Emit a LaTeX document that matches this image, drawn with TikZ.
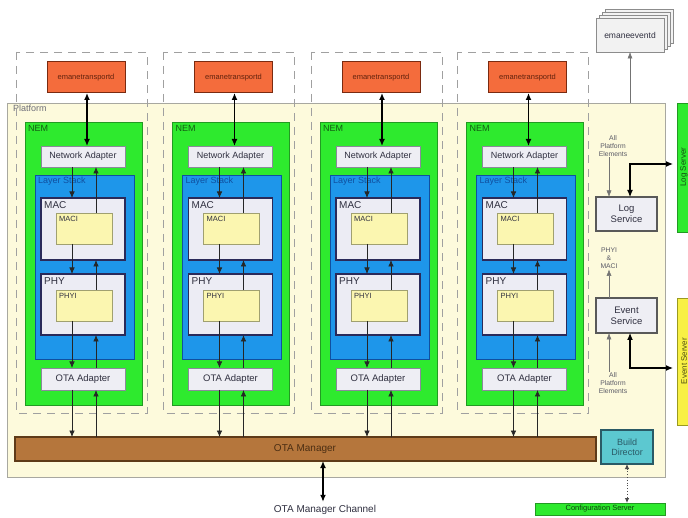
\documentclass[tikz,border=0pt]{standalone}
\usepackage{fontspec}
\setmainfont{Liberation Sans}
\usetikzlibrary{arrows.meta}
\definecolor{cream}{HTML}{FDFADC}
\definecolor{platline}{HTML}{A8A8A0}
\definecolor{orangef}{HTML}{F46C3C}
\definecolor{oranged}{HTML}{7A2A10}
\definecolor{nemgreen}{HTML}{2EEA2E}
\definecolor{nemdark}{HTML}{229A22}
\definecolor{stackblue}{HTML}{1E96EA}
\definecolor{stackdark}{HTML}{1050A0}
\definecolor{layerf}{HTML}{ECECF4}
\definecolor{layerd}{HTML}{2A2A5A}
\definecolor{plugf}{HTML}{FBF6B0}
\definecolor{plugd}{HTML}{A0A070}
\definecolor{adaptf}{HTML}{EEEEF4}
\definecolor{adaptd}{HTML}{8A8A9A}
\definecolor{brownf}{HTML}{B5763C}
\definecolor{brownd}{HTML}{5E3A18}
\definecolor{tealf}{HTML}{5CC8D0}
\definecolor{teald}{HTML}{2A5A66}
\definecolor{evyellow}{HTML}{F8F044}
\definecolor{evdark}{HTML}{9A9A20}
\definecolor{txt}{HTML}{303040}
\definecolor{dashc}{HTML}{A0A0A0}
\tikzset{
  nw/.style={anchor=north west, inner sep=0pt, outer sep=0pt},
  platbox/.style={nw, draw=platline, line width=0.8pt, fill=cream},
  colframe/.style={draw=dashc, dash pattern=on 8pt off 6pt, line width=0.6pt},
  orangebox/.style={nw, draw=oranged, line width=1pt, fill=orangef, text=oranged!80!black, font=\fontsize{7.5}{8}\selectfont},
  nembox/.style={nw, draw=nemdark, line width=0.8pt, fill=nemgreen},
  stackbox/.style={nw, draw=stackdark, line width=0.8pt, fill=stackblue},
  layerbox/.style={nw, draw=layerd, line width=1.2pt, fill=layerf},
  plugbox/.style={nw, draw=plugd, line width=0.6pt, fill=plugf},
  adapterbox/.style={nw, draw=adaptd, line width=0.8pt, fill=adaptf, text=txt, font=\fontsize{9}{10}\selectfont},
  svcbox/.style={nw, draw=gray!70!black, line width=1.4pt, fill=adaptf, text=txt, align=center, font=\fontsize{9.5}{11}\selectfont},
  lbl/.style={anchor=north west, inner sep=1pt, text=txt, font=\fontsize{9}{10}\selectfont},
  smalllbl/.style={anchor=north west, inner sep=1pt, text=txt, font=\fontsize{7.5}{8}\selectfont},
  tinytxt/.style={align=center, inner sep=1pt, text=txt!80, font=\fontsize{6.8}{7.8}\selectfont},
  thinarr/.style={draw=black!85, line width=0.7pt, -{Latex[length=6.5pt,width=5.5pt]}},
  greyarr/.style={draw=black!55, line width=0.5pt, -{Latex[length=6.5pt,width=5pt]}},
  bigarr/.style={draw=black, line width=1.3pt, {Latex[length=7pt,width=6pt]}-{Latex[length=7pt,width=6pt]}},
  eebox/.style={draw=black!45, line width=0.6pt, fill=black!5},
}
\begin{document}
\begin{tikzpicture}[x=1pt,y=-1pt]
\clip (0,0) rectangle (688,518);
\fill[white] (0,0) rectangle (688,518);
% platform
\node[platbox, minimum width=658, minimum height=374] (plat) at (7,103) {};
\node[lbl, text=txt!70] (platlbl) at (12,104) {Platform};
% dashed columns
\foreach \dx in {0,147.5,295,441.5}{
  \draw[colframe] ({\dx+16},52) rectangle ({\dx+147},413);
}
% OTA manager
\node[nw, draw=brownd, line width=1.2pt, fill=brownf, minimum width=581, minimum height=24] (otam) at (15,437) {};
\node[text=brownd!80!black, font=\fontsize{10}{11}\selectfont] (otamlbl) at (305,449) {OTA Manager};
% columns
\foreach \i/\dx in {1/0,2/147.5,3/295,4/441.5}{
  \node[orangebox, minimum width=78, minimum height=31] (et\i) at ({\dx+47},62) {emanetransportd};
  \node[nembox, minimum width=117, minimum height=283] (nem\i) at ({\dx+25},122) {};
  \node[lbl, text=nemdark!60!black] (neml\i) at ({\dx+27},124) {NEM};
  \node[adapterbox, minimum width=84, minimum height=21] (na\i) at ({\dx+41},146) {Network Adapter};
  \node[stackbox, minimum width=99, minimum height=184] (st\i) at ({\dx+35},175) {};
  \node[lbl, text=stackdark] (stl\i) at ({\dx+37},176) {Layer Stack};
  \node[layerbox, minimum width=84, minimum height=62] (mac\i) at ({\dx+41},198) {};
  \node[lbl, font=\fontsize{10}{11}\selectfont] (macl\i) at ({\dx+43},200) {MAC};
  \node[plugbox, minimum width=56, minimum height=31] (maci\i) at ({\dx+56},213) {};
  \node[smalllbl] (macil\i) at ({\dx+58},215) {MACI};
  \node[layerbox, minimum width=84, minimum height=61] (phy\i) at ({\dx+41},274) {};
  \node[lbl, font=\fontsize{10}{11}\selectfont] (phyl\i) at ({\dx+43},276) {PHY};
  \node[plugbox, minimum width=56, minimum height=31] (phyi\i) at ({\dx+56},290) {};
  \node[smalllbl] (phyil\i) at ({\dx+58},292) {PHYI};
  \node[adapterbox, minimum width=84, minimum height=22, font=\fontsize{9.5}{10}\selectfont] (ota\i) at ({\dx+41},368) {OTA Adapter};
  \coordinate (dn\i) at ({\dx+72},0);
  \coordinate (up\i) at ({\dx+96},0);
  \coordinate (tr\i) at ({\dx+87},0);
  \draw[bigarr] (et\i.south -| tr\i) -- (na\i.north -| tr\i);
  \draw[thinarr] (na\i.south -| dn\i) -- (mac\i.north -| dn\i);
  \draw[thinarr] (maci\i.north -| up\i) -- (na\i.south -| up\i);
  \draw[thinarr] (maci\i.south -| dn\i) -- (phy\i.north -| dn\i);
  \draw[thinarr] (phyi\i.north -| up\i) -- (mac\i.south -| up\i);
  \draw[thinarr] (phyi\i.south -| dn\i) -- (ota\i.north -| dn\i);
  \draw[thinarr] (ota\i.north -| up\i) -- (phy\i.south -| up\i);
  \draw[thinarr] (ota\i.south -| dn\i) -- (otam.north -| dn\i);
  \draw[thinarr] (otam.north -| up\i) -- (ota\i.south -| up\i);
}
% channel
\node[text=txt, font=\fontsize{10}{11}\selectfont] (chan) at (325,510) {OTA Manager Channel};
\coordinate (xc) at (323,0);
\draw[bigarr] (otam.south -| xc) -- (chan.north -| xc);
% emaneeventd
\foreach \o in {9,6,3}{
  \draw[eebox] ({596+\o},{18-\o}) rectangle ({664+\o},{52-\o});
}
\node[nw, eebox, minimum width=68, minimum height=34, text=txt, font=\fontsize{8.5}{9}\selectfont] (ee) at (596,18) {emaneeventd};
\draw[greyarr] (plat.north -| ee.south) -- (ee.south);
% side servers
\node[nw, draw=nemdark, line width=0.8pt, fill=nemgreen, minimum width=30, minimum height=129] (lserv) at (677,103) {};
\node[rotate=90, text=nemdark!50!black, font=\fontsize{8}{9}\selectfont] (lservl) at (684,167) {Log Server};
\node[nw, draw=evdark, line width=0.8pt, fill=evyellow, minimum width=30, minimum height=127] (eserv) at (677,298) {};
\node[rotate=90, text=evdark!50!black, font=\fontsize{8}{9}\selectfont] (eservl) at (684,361) {Event Server};
% services
\node[svcbox, minimum width=61, minimum height=34] (logs) at (596,197) {Log\\Service};
\node[svcbox, minimum width=61, minimum height=35] (evs) at (596,298) {Event\\Service};
\node[tinytxt] (ape1) at (613,146) {All\\Platform\\Elements};
\node[tinytxt] (pm) at (609,258) {PHYI\\\&\\MACI};
\node[tinytxt] (ape2) at (613,383) {All\\Platform\\Elements};
\coordinate (xa) at (609,0);
\coordinate (xb) at (630,0);
\coordinate (ylog) at (0,164);
\coordinate (yev) at (0,368);
\draw[greyarr] (ape1.south -| xa) -- (logs.north -| xa);
\draw[bigarr, line width=1.1pt] (logs.north -| xb) -- (xb |- ylog) -- ([xshift=-4pt]lserv.west |- ylog);
\draw[greyarr] (evs.north -| xa) -- (pm.south -| xa);
\draw[greyarr] (ape2.north -| xa) -- (evs.south -| xa);
\draw[bigarr, line width=1.1pt] (evs.south -| xb) -- (xb |- yev) -- ([xshift=-4pt]eserv.west |- yev);
% build director and configuration server
\node[nw, draw=teald, line width=1.2pt, fill=tealf, minimum width=52, minimum height=34, align=center, text=teald, font=\fontsize{9}{10}\selectfont] (bd) at (601,430) {Build\\Director};
\node[nw, draw=nemdark, line width=0.6pt, fill=nemgreen, minimum width=130, minimum height=12, text=nemdark!40!black, font=\fontsize{7.5}{8}\selectfont] (cfg) at (535,503) {Configuration Server};
\draw[draw=black!70, dotted, line width=0.8pt, {Latex[length=5pt,width=4.5pt]}-{Latex[length=5pt,width=4.5pt]}] (bd.south) -- (cfg.north -| bd.south);
\end{tikzpicture}
\end{document}
